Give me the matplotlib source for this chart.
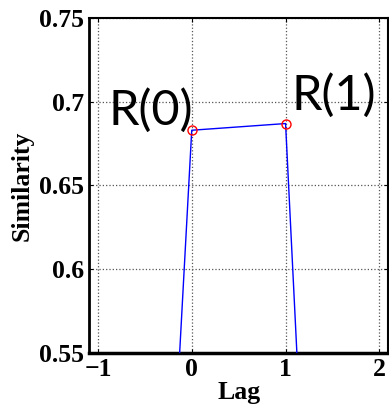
import matplotlib
matplotlib.use("Agg")
import matplotlib.pyplot as plt

lags = [-1, 0, 1, 2]
similarity = [-0.35, 0.683, 0.687, -0.45]
marker_lags = [0, 1]
marker_vals = [0.683, 0.687]
labels = ["R(0)", "R(1)"]
label_pos = [(-0.89, 0.686), (1.06, 0.695)]
xticks = [-1, 0, 1, 2]
yticks = [0.55, 0.6, 0.65, 0.7, 0.75]
yticklabels = ["0.55", "0.6", "0.65", "0.7", "0.75"]

fig = plt.figure(figsize=(3.89, 4.13), dpi=100)
ax = fig.add_axes([0.230, 0.146, 0.767, 0.810])

ax.plot(lags, similarity, color="#0000ff", lw=1.0, zorder=3)
ax.plot(marker_lags, marker_vals, linestyle="none", marker="o", mfc="none",
        mec="red", ms=6.5, mew=1.0, zorder=4)
for t, (x, y) in zip(labels, label_pos):
    ax.text(x, y, t, fontsize=35, family="Lato", ha="left", va="baseline")

ax.set_xlim(-1.09, 2.09)
ax.set_ylim(0.55, 0.75)
ax.set_xticks(xticks)
ax.set_yticks(yticks)
ax.set_yticklabels(yticklabels)
ax.grid(True, linestyle=":", color="#555555", lw=0.9)
ax.tick_params(direction="in", length=3, top=True, right=True, width=0.8,
               labelsize=18.5, pad=4)
for lab in ax.get_xticklabels() + ax.get_yticklabels():
    lab.set_family("Liberation Serif")
    lab.set_fontweight("bold")
ax.set_xlabel("Lag", family="Liberation Serif", fontweight="bold", fontsize=18.5, labelpad=0)
ax.set_ylabel("Similarity", family="Liberation Serif", fontweight="bold", fontsize=18.5, labelpad=4)
ax.spines["bottom"].set_linewidth(2.5)
ax.spines["left"].set_linewidth(2.0)
ax.spines["top"].set_linewidth(1.5)
ax.spines["right"].set_linewidth(1.5)

fig.savefig("out.png", dpi=100)
